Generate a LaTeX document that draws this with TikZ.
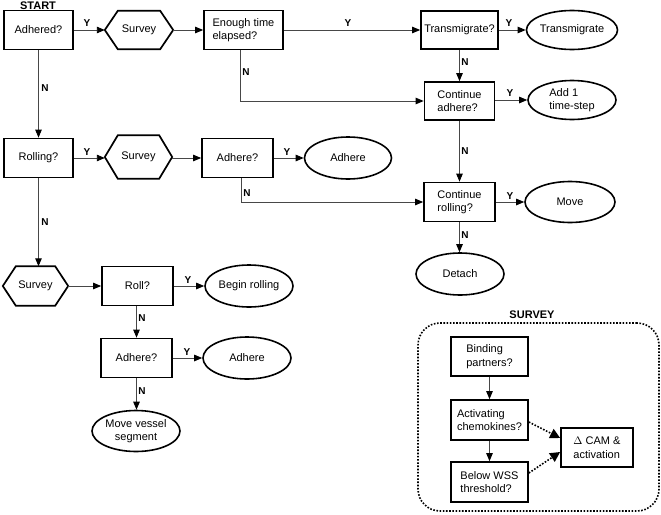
\documentclass[tikz,border=0pt]{standalone}
\usepackage{fontspec}
\setmainfont{Liberation Sans}
\usetikzlibrary{arrows.meta,shapes.geometric}
\newcommand\fsz{\fontsize{11}{13.5}\selectfont}
\newcommand\hexdraw[1]{\draw[line width=1.7pt] ([xshift=13pt]#1.north west) -- ([xshift=-13pt]#1.north east) -- (#1.east) -- ([xshift=-13pt]#1.south east) -- ([xshift=13pt]#1.south west) -- (#1.west) -- cycle;}
\begin{document}
\begin{tikzpicture}[x=1pt,y=-1pt,
  box/.style={draw, line width=1.7pt, inner sep=2pt, align=center, font=\fsz, minimum height=39pt},
  lbox/.style={box, align=left},
  oval/.style={ellipse, draw, line width=1.6pt, inner sep=0pt, minimum width=88pt, minimum height=41pt, align=center, font=\fsz},
  hexn/.style={rectangle, inner sep=0pt, font=\fsz},
  conn/.style={draw=black!72, line width=0.9pt, -{Triangle[length=8pt,width=6.5pt,color=black]}},
  plain/.style={draw=black!72, line width=0.9pt},
  lab/.style={font=\bfseries\fontsize{10}{12}\selectfont, inner sep=0pt},
  dotarrow/.style={draw=black, line width=1.6pt, dash pattern=on 1.6pt off 1.6pt, -{Triangle[length=10pt,width=10pt,color=black]}}
]
\useasboundingbox (0,0) rectangle (661,514);

% row 1
\node[box, minimum width=69pt] (adh1) at (38.5,30) {Adhered?};
\node[lab, font=\bfseries\fontsize{11}{13}\selectfont] (start) at (38,6) {START};
\node[hexn, minimum width=68pt, minimum height=38pt] (surv1) at (139,30) {Survey};
\hexdraw{surv1}
\node[lbox, minimum width=79pt] (enough) at (243.5,30) {Enough time\\elapsed?};
\node[box, minimum width=77pt, minimum height=38pt] (trans) at (459.5,30) {Transmigrate?};
\node[oval, minimum height=39pt] (transE) at (572,30) {Transmigrate};

% row continue adhere
\node[lbox, minimum width=70pt, minimum height=38pt] (contAd) at (459.5,101) {Continue\\adhere?};
\node[oval, minimum height=39pt, align=left] (addE) at (572,100) {Add 1\\time-step};

% row 2
\node[box, minimum width=69pt] (roll1) at (38.5,158) {Rolling?};
\node[hexn, minimum width=67pt, minimum height=43pt] (surv2) at (138.5,157) {Survey};
\hexdraw{surv2}
\node[box, minimum width=71pt] (adh2) at (237.5,158) {Adhere?};
\node[oval, minimum width=87pt, minimum height=42pt] (adhE2) at (348,158) {Adhere};

\node[lbox, minimum width=71pt] (contRoll) at (459.5,202) {Continue\\rolling?};
\node[oval, minimum width=90pt, minimum height=41pt] (moveE) at (570,202) {Move};
\node[oval, minimum height=42pt] (detachE) at (460,274) {Detach};

% row 3
\node[hexn, minimum width=65pt, minimum height=39pt] (surv3) at (35.5,286) {Survey};
\hexdraw{surv3}
\node[box, minimum width=71pt] (roll2) at (137.5,286) {Roll?};
\node[oval, minimum height=42pt] (beginE) at (249,286) {Begin rolling};
\node[box, minimum width=71pt] (adh3) at (136.5,358) {Adhere?};
\node[oval, minimum height=42pt] (adhE3) at (247,358) {Adhere};
\node[oval, minimum height=41pt] (moveVE) at (136,431) {Move vessel\\segment};

% survey box
\node[draw, line width=1.6pt, dash pattern=on 1.6pt off 1.6pt, rounded corners=22pt, minimum width=241pt, minimum height=188pt, inner sep=0pt] (survbox) at (538.5,417) {};
\node[lab, font=\bfseries\fontsize{11}{13}\selectfont] (svlab) at (532,315) {SURVEY};
\node[lbox, minimum width=77pt] (bind) at (489.5,356.5) {Binding\\partners?};
\node[lbox, minimum width=77pt, minimum height=40pt] (activ) at (489.5,420) {Activating\\chemokines?};
\node[lbox, minimum width=77pt, minimum height=40pt] (below) at (489.5,482) {Below WSS\\threshold?};
\node[lbox, minimum width=72pt] (dcam) at (597,447.5) {$\Delta$ CAM \&\\activation};

% connectors row 1
\draw[conn] (adh1) -- (surv1.west);
\draw[conn] (surv1.east) -- (enough);
\draw[conn] (enough) -- (trans);
\draw[conn] (trans) -- (transE);
\draw[conn] (trans.south) -- (contAd.north);
\draw[conn] ([xshift=-3.5pt]enough.south) |- (contAd.west);
\draw[conn] (contAd.east |- addE) -- (addE);
\draw[conn] (contAd.south) -- (contRoll.north);

% row 2
\draw[conn] (adh1.south) -- (roll1.north);
\draw[conn] (roll1) -- (roll1.east -| surv2.west);
\draw[conn] (surv2.east |- adh2) -- (adh2);
\draw[conn] (adh2) -- (adhE2);
\draw[conn] ([xshift=3.5pt]adh2.south) |- (contRoll.west);
\draw[conn] (contRoll) -- (moveE);
\draw[conn] (contRoll.south) -- (contRoll.south |- detachE.north);

% row 3
\draw[conn] (roll1.south) -- (roll1.south |- surv3.north);
\draw[conn] (surv3.east) -- (roll2);
\draw[conn] (roll2) -- (beginE);
\draw[conn] (roll2.south -| adh3) -- (adh3.north);
\draw[conn] (adh3) -- (adhE3);
\draw[conn] (adh3.south) -- (adh3.south |- moveVE.north);

% survey internals
\draw[conn] (bind.south) -- (activ.north);
\draw[conn] (activ.south) -- (below.north);
\draw[dotarrow] ([yshift=-2pt]activ.east) -- ([yshift=9.5pt]dcam.west);
\draw[dotarrow] ([yshift=9pt]below.east) -- ([yshift=-4.5pt]dcam.west);

% labels
\node[lab] (y1) at (87,23) {Y};
\node[lab] (y2) at (348,23) {Y};
\node[lab] (y3) at (509,23) {Y};
\node[lab] (n1) at (465,62) {N};
\node[lab] (y4) at (510,93) {Y};
\node[lab] (n2) at (45,88) {N};
\node[lab] (n3) at (246,72) {N};
\node[lab] (y5) at (87,152) {Y};
\node[lab] (y6) at (287,152) {Y};
\node[lab] (n4) at (247,193) {N};
\node[lab] (n5) at (465,151) {N};
\node[lab] (y7) at (510,196) {Y};
\node[lab] (n6) at (465,235) {N};
\node[lab] (n7) at (45,222) {N};
\node[lab] (y8) at (188,280) {Y};
\node[lab] (n8) at (142,318) {N};
\node[lab] (y9) at (187,352) {Y};
\node[lab] (n9) at (142,391) {N};
\end{tikzpicture}
\end{document}
